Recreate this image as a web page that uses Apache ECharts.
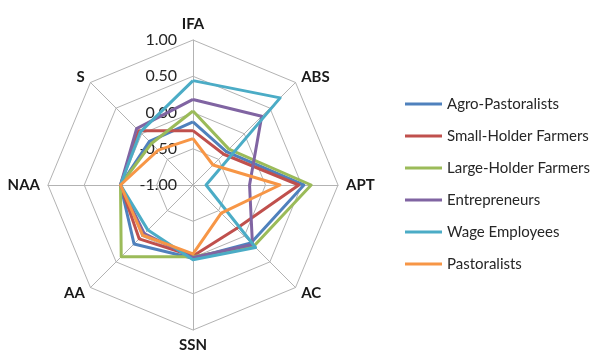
<!DOCTYPE html>
<html>
<head>
<meta charset="utf-8">
<script src="https://cdn.jsdelivr.net/npm/echarts@6/dist/echarts.min.js"></script>
<style>
  html, body { margin: 0; padding: 0; background: #ffffff; }
  #chart { width: 598px; height: 356px; }
</style>
</head>
<body>
<div id="chart"></div>
<script>
// Radar axes, listed clockwise starting from the top
const axisNames = ['IFA', 'ABS', 'APT', 'AC', 'SSN', 'AA', 'NAA', 'S'];
// Ring values (scale -1 .. 1)
const ringTicks = [-1.0, -0.5, 0.0, 0.5, 1.0];

const groupNames = [
  'Agro-Pastoralists',
  'Small-Holder Farmers',
  'Large-Holder Farmers',
  'Entrepreneurs',
  'Wage Employees',
  'Pastoralists'
];

// Scores per group, in the same clockwise axis order
const agroPastoralists   = [-0.13, -0.35,  0.53,  0.13,  0.01,  0.15, 0.00, -0.15];
const smallHolderFarmers = [-0.25, -0.40,  0.46, -0.15, -0.02,  0.05, 0.00,  0.06];
const largeHolderFarmers = [ 0.02, -0.30,  0.63,  0.19, -0.01,  0.40, 0.00, -0.19];
const entrepreneurs      = [ 0.18,  0.34, -0.22,  0.16,  0.00, -0.05, 0.00,  0.10];
const wageEmployees      = [ 0.44,  0.70, -0.82,  0.22,  0.03, -0.12, 0.00,  0.03];
const pastoralists       = [-0.36, -0.61,  0.20, -0.45, -0.05, -0.02, 0.00, -0.32];

const groupValues = [
  agroPastoralists, smallHolderFarmers, largeHolderFarmers,
  entrepreneurs, wageEmployees, pastoralists
];
const groupColors = ['#4F81BD', '#C0504D', '#9BBB59', '#8064A2', '#4BACC6', '#F79646'];

// ECharts lays radar indicators out counter-clockwise, so walk the list backwards
const order = [0];
for (let i = axisNames.length - 1; i > 0; i--) order.push(i);

const minV = ringTicks[0];
const maxV = ringTicks[ringTicks.length - 1];

const indicators = order.map((idx, k) => {
  const ind = { name: axisNames[idx], min: minV, max: maxV };
  if (k === 0) {
    // value labels only along the top axis
    ind.axisLabel = {
      show: true,
      formatter: v => Number(v).toFixed(2),
      color: '#262626',
      fontSize: 16,
      fontFamily: 'Lato',
      margin: 16
    };
  }
  return ind;
});

const chart = echarts.init(document.getElementById('chart'), null, { renderer: 'canvas' });

chart.setOption({
  animation: false,
  backgroundColor: '#ffffff',
  color: groupColors,
  legend: {
    orient: 'vertical',
    left: 405,
    top: 96,
    padding: 0,
    itemWidth: 37,
    itemHeight: 3,
    itemGap: 16,
    icon: 'rect',
    data: groupNames,
    textStyle: {
      color: '#262626',
      fontSize: 15,
      lineHeight: 16,
      fontFamily: 'Lato'
    }
  },
  radar: {
    center: [193, 185],
    radius: 145,
    startAngle: 90,
    shape: 'polygon',
    splitNumber: ringTicks.length - 1,
    indicator: indicators,
    nameGap: 8,
    axisName: {
      color: '#1a1a1a',
      fontSize: 15,
      fontWeight: 'bold',
      fontFamily: 'Lato'
    },
    axisLine: { lineStyle: { color: '#b3b3b3', width: 1 } },
    splitLine: { lineStyle: { color: '#b3b3b3', width: 1 } },
    splitArea: { show: false },
    axisTick: { show: false },
    axisLabel: { show: false }
  },
  series: [{
    type: 'radar',
    symbol: 'none',
    data: groupNames.map((name, i) => ({
      name: name,
      value: order.map(idx => groupValues[i][idx]),
      lineStyle: { color: groupColors[i], width: 3, join: 'round' },
      itemStyle: { color: groupColors[i] }
    }))
  }]
});
</script>
</body>
</html>
